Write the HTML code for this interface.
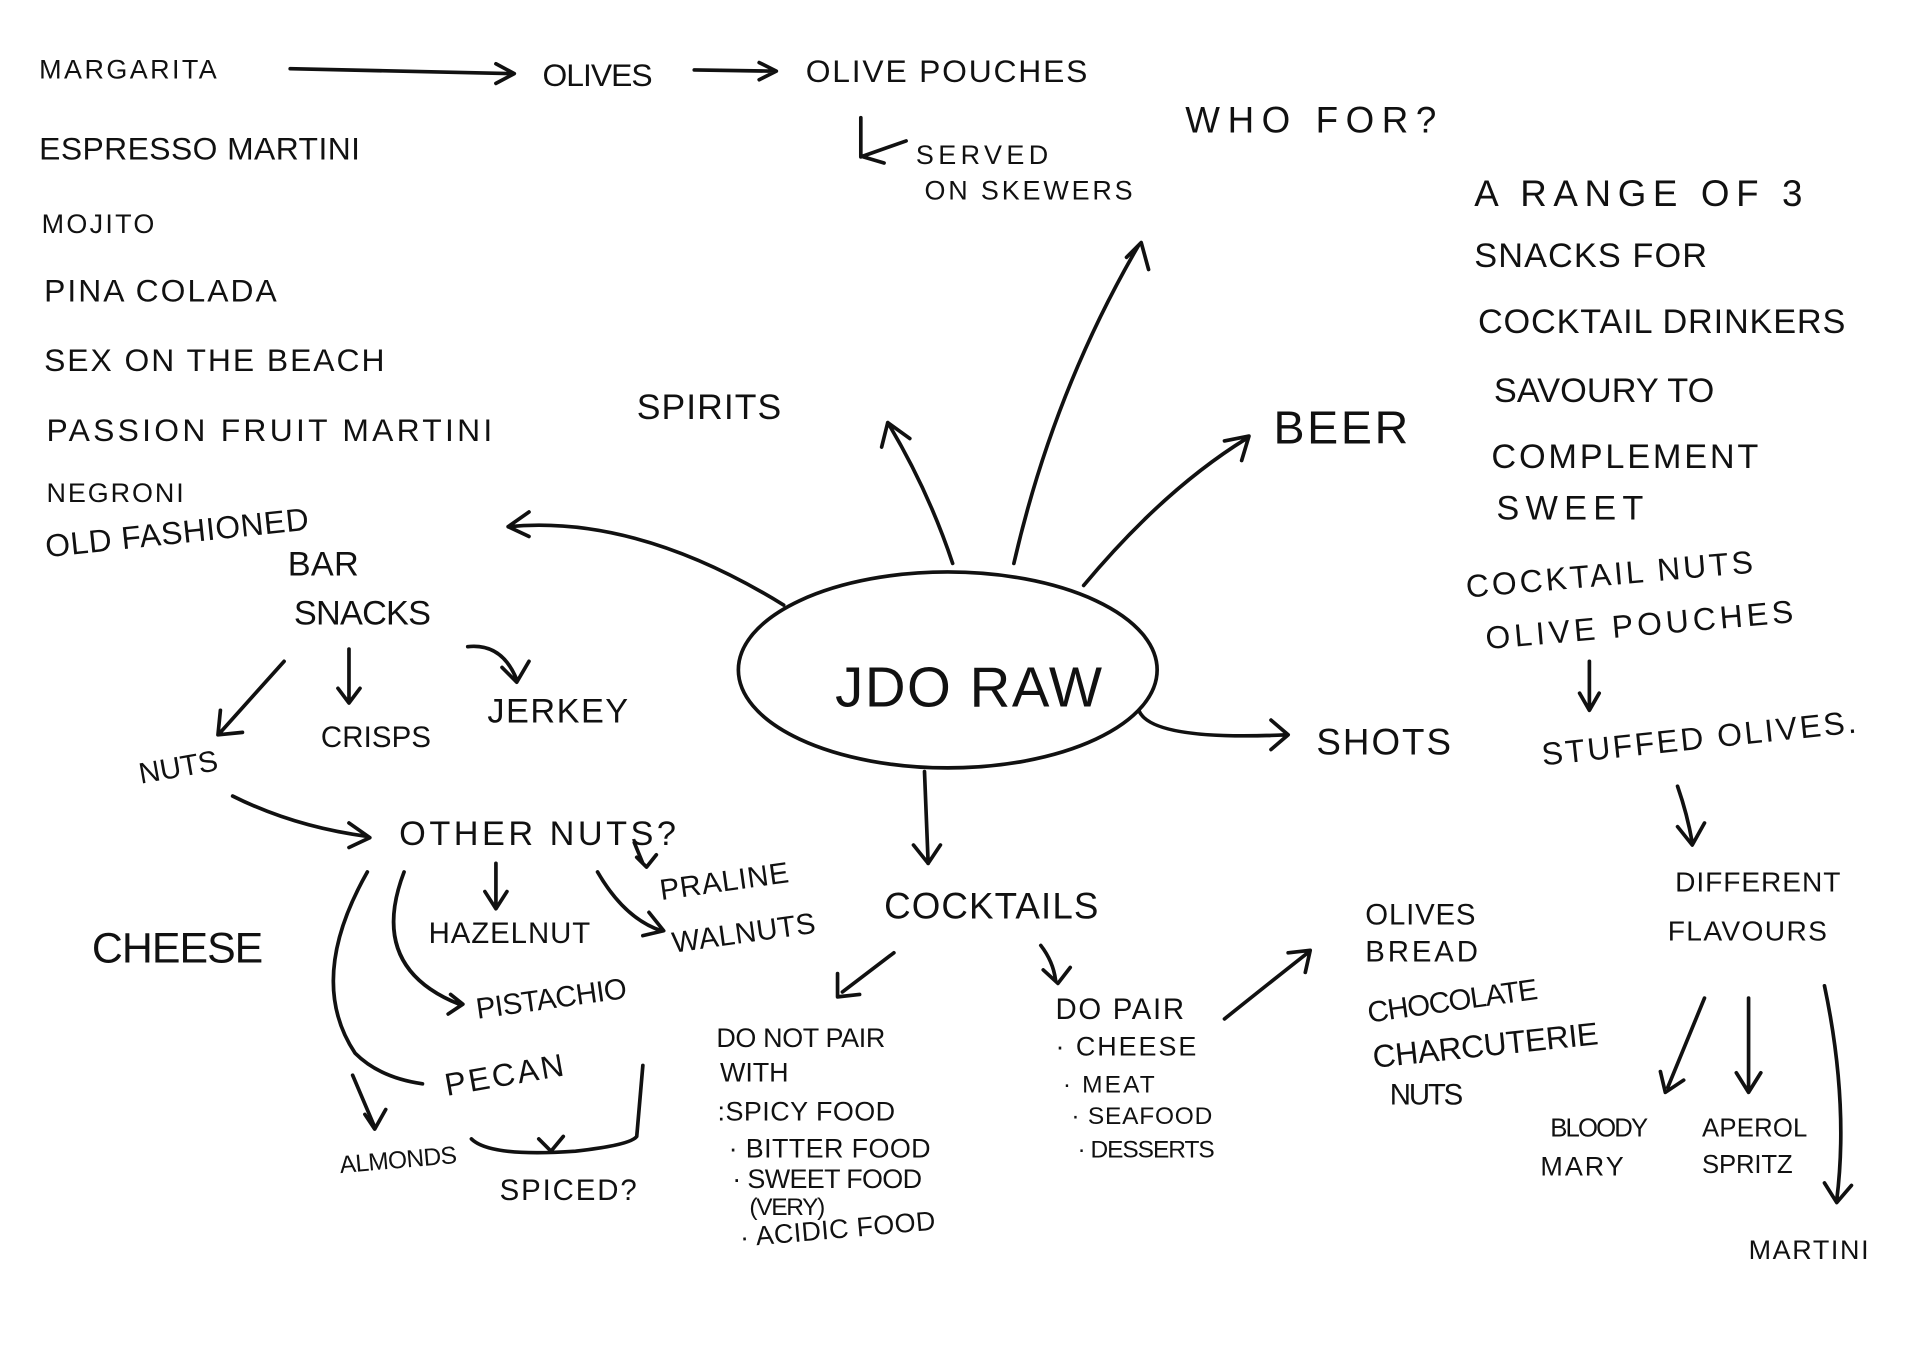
<!DOCTYPE html>
<html><head><meta charset="utf-8"><style>
html,body{margin:0;padding:0;background:#fff;}
svg{display:block;}
text{font-family:"Liberation Sans",sans-serif;fill:#111;}
.s{stroke:#111;stroke-width:3;fill:none;stroke-linecap:round;stroke-linejoin:round;}
</style></head><body>
<svg width="1920" height="1357" viewBox="0 0 1568 1108" xmlns="http://www.w3.org/2000/svg">
<g font-size="26">
<text x="32" y="64" font-size="22" textLength="145">MARGARITA</text>
<text x="32" y="130" textLength="262">ESPRESSO MARTINI</text>
<text x="34" y="190" font-size="22" textLength="92">MOJITO</text>
<text x="36" y="246" textLength="190">PINA COLADA</text>
<text x="36" y="303" textLength="278">SEX ON THE BEACH</text>
<text x="38" y="360" textLength="364">PASSION FRUIT MARTINI</text>
<text x="38" y="410" font-size="22" textLength="112">NEGRONI</text>
<text x="38" y="455" textLength="216" transform="rotate(-6 38 455)">OLD FASHIONED</text>
<text x="443" y="70" textLength="90">OLIVES</text>
<text x="658" y="67" textLength="230">OLIVE POUCHES</text>
<text x="748" y="134" font-size="22" textLength="108">SERVED</text>
<text x="755" y="163" font-size="22" textLength="170">ON SKEWERS</text>
<text x="968" y="108" font-size="30" textLength="205">WHO FOR?</text>
<text x="1204" y="168" font-size="30" textLength="268">A RANGE OF 3</text>
<text x="1204" y="218" font-size="28" textLength="190">SNACKS FOR</text>
<text x="1207" y="272" font-size="28" textLength="300">COCKTAIL DRINKERS</text>
<text x="1220" y="328" font-size="28" textLength="180">SAVOURY TO</text>
<text x="1218" y="382" font-size="28" textLength="218">COMPLEMENT</text>
<text x="1222" y="424" font-size="28" textLength="120">SWEET</text>
<text x="1198" y="488" font-size="26" textLength="235" transform="rotate(-5 1198 488)">COCKTAIL NUTS</text>
<text x="1214" y="530" font-size="26" textLength="252" transform="rotate(-5 1214 530)">OLIVE POUCHES</text>
<text x="1260" y="625" font-size="26" textLength="258" transform="rotate(-6 1260 625)">STUFFED OLIVES.</text>
<text x="1368" y="728" font-size="23" textLength="135">DIFFERENT</text>
<text x="1362" y="768" font-size="23" textLength="130">FLAVOURS</text>
<text x="1266" y="928" font-size="21" textLength="80">BLOODY</text>
<text x="1258" y="960" font-size="22" textLength="68">MARY</text>
<text x="1390" y="928" font-size="21" textLength="86">APEROL</text>
<text x="1390" y="958" font-size="21" textLength="74">SPRITZ</text>
<text x="1428" y="1028" font-size="22" textLength="98">MARTINI</text>
<text x="520" y="342" font-size="29" textLength="118">SPIRITS</text>
<text x="1040" y="362" font-size="38" textLength="110">BEER</text>
<text x="1075" y="616" font-size="30" textLength="110">SHOTS</text>
<text x="682" y="577" font-size="46" textLength="218">JDO RAW</text>
<text x="235" y="470" font-size="28" textLength="58">BAR</text>
<text x="240" y="510" font-size="28" textLength="112">SNACKS</text>
<text x="262" y="610" font-size="24" textLength="90">CRISPS</text>
<text x="398" y="590" font-size="28" textLength="115">JERKEY</text>
<text x="115" y="640" font-size="24" textLength="65" transform="rotate(-10 115 640)">NUTS</text>
<text x="326" y="690" font-size="28" textLength="226">OTHER NUTS?</text>
<text x="540" y="735" font-size="24" textLength="106" transform="rotate(-8 540 735)">PRALINE</text>
<text x="550" y="778" font-size="24" textLength="118" transform="rotate(-8 550 778)">WALNUTS</text>
<text x="350" y="770" font-size="24" textLength="132">HAZELNUT</text>
<text x="390" y="832" font-size="24" textLength="124" transform="rotate(-8 390 832)">PISTACHIO</text>
<text x="75" y="786" font-size="35" textLength="140">CHEESE</text>
<text x="365" y="895" font-size="26" textLength="98" transform="rotate(-10 365 895)">PECAN</text>
<text x="278" y="958" font-size="20" textLength="96" transform="rotate(-5 278 958)">ALMONDS</text>
<text x="408" y="980" font-size="24" textLength="112">SPICED?</text>
<text x="722" y="750" font-size="30" textLength="175">COCKTAILS</text>
<text x="585" y="855" font-size="22" textLength="138">DO NOT PAIR</text>
<text x="588" y="883" font-size="22" textLength="56">WITH</text>
<text x="586" y="915" font-size="22" textLength="145">:SPICY FOOD</text>
<text x="595" y="945" font-size="22" textLength="165">· BITTER FOOD</text>
<text x="598" y="970" font-size="22" textLength="155">· SWEET FOOD</text>
<text x="612" y="992" font-size="20" textLength="62">(VERY)</text>
<text x="605" y="1018" font-size="22" textLength="160" transform="rotate(-5 605 1018)">· ACIDIC FOOD</text>
<text x="862" y="832" font-size="24" textLength="105">DO PAIR</text>
<text x="862" y="862" font-size="22" textLength="115">· CHEESE</text>
<text x="868" y="892" font-size="20" textLength="75">· MEAT</text>
<text x="875" y="918" font-size="20" textLength="115">· SEAFOOD</text>
<text x="880" y="945" font-size="20" textLength="112">· DESSERTS</text>
<text x="1115" y="755" font-size="24" textLength="90">OLIVES</text>
<text x="1115" y="785" font-size="24" textLength="92">BREAD</text>
<text x="1118" y="835" font-size="24" textLength="140" transform="rotate(-8 1118 835)">CHOCOLATE</text>
<text x="1122" y="872" font-size="26" textLength="185" transform="rotate(-6 1122 872)">CHARCUTERIE</text>
<text x="1135" y="902" font-size="24" textLength="60">NUTS</text>
</g>
<g class="s">
<ellipse cx="774" cy="547" rx="171" ry="80"/>
<path d="M237 56 L418 60 M405 52 L420 60 L405 68"/>
<path d="M567 57 L632 58 M620 51 L634 58 L620 65"/>
<path d="M703 96 L703 128 L740 115 M705 128 L722 133"/>
<path d="M640 494 Q520 420 415 430 M432 418 L415 430 L432 438"/>
<path d="M778 460 Q758 400 725 345 M720 365 L725 345 L743 358"/>
<path d="M828 460 Q860 320 930 200 M920 210 L932 198 L938 220"/>
<path d="M885 478 Q950 400 1018 358 M1000 360 L1020 356 L1014 376"/>
<path d="M930 580 Q940 605 1050 600 M1038 588 L1052 600 L1038 612"/>
<path d="M755 630 L758 705 M746 690 L758 705 L768 690"/>
<path d="M232 540 L180 598 M180 580 L178 600 L198 598"/>
<path d="M285 530 L285 572 M276 562 L285 574 L294 562"/>
<path d="M382 528 Q410 525 422 555 M410 545 L422 557 L432 540"/>
<path d="M190 650 Q240 675 300 683 M285 672 L302 684 L285 692"/>
<path d="M405 705 L405 740 M396 728 L405 742 L414 728"/>
<path d="M488 712 Q510 750 540 760 M530 745 L542 760 L525 764"/>
<path d="M518 688 L525 705 M520 700 L528 708 L536 698"/>
<path d="M330 712 Q300 790 375 820 M368 812 L378 820 L366 828"/>
<path d="M300 712 Q250 800 290 860 Q310 880 345 885"/>
<path d="M288 878 L305 918 M298 910 L306 922 L315 906"/>
<path d="M385 930 Q400 945 470 940 Q515 935 520 928 L525 870"/>
<path d="M440 930 L450 940 L460 928"/>
<path d="M730 778 L688 810 M684 795 L684 814 L702 812"/>
<path d="M850 772 Q860 785 862 800 M852 792 L864 803 L874 790"/>
<path d="M1000 832 Q1040 800 1068 778 M1052 778 L1070 776 L1066 794"/>
<path d="M1298 540 L1298 578 M1290 566 L1298 580 L1306 566"/>
<path d="M1370 642 Q1378 665 1382 688 M1370 675 L1382 690 L1392 672"/>
<path d="M1392 815 L1362 888 M1356 875 L1360 892 L1375 882"/>
<path d="M1428 815 L1428 890 M1418 876 L1428 892 L1438 876"/>
<path d="M1490 805 Q1510 900 1500 980 M1490 966 L1500 982 L1512 968"/>
</g>
</svg>
</body></html>
